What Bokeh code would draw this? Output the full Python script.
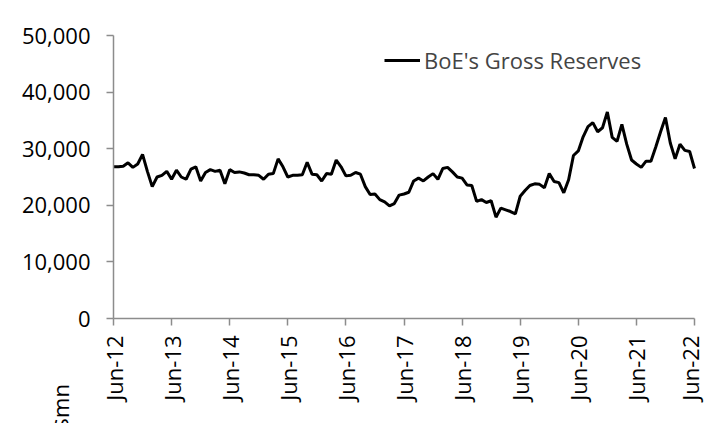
from bokeh.plotting import figure
from bokeh.models import (FixedTicker, NumeralTickFormatter, Range1d, Legend, LegendItem, Label,
                          ColumnDataSource)
from bokeh.embed import file_html
from bokeh.resources import INLINE
import math

# Monthly series, Jun-12 .. Jun-22 (US$ mn)
months = [f"{m}-{y:02d}" for y in range(12, 23) for m in
          ["Jan", "Feb", "Mar", "Apr", "May", "Jun", "Jul", "Aug", "Sep", "Oct", "Nov", "Dec"]][5:5 + 121]
reserves = [
    26800, 26800, 26900, 27500, 26700, 27300, 29000, 26000, 23300, 25000, 25300, 26000,
    24600, 26200, 25000, 24600, 26400, 26800, 24300, 25800, 26300, 26000, 26200, 23800,
    26300, 25800, 25900, 25700, 25400, 25400, 25300, 24600, 25500, 25600, 28200, 26800,
    25000, 25300, 25300, 25400, 27600, 25500, 25400, 24300, 25600, 25500, 28000, 26800,
    25200, 25300, 25800, 25500, 23300, 21900, 22000, 21000, 20600, 19900, 20300, 21800,
    22000, 22300, 24300, 24800, 24300, 25000, 25600, 24600, 26500, 26700, 25900, 25000,
    24800, 23600, 23500, 20700, 21000, 20500, 20800, 17900, 19500, 19200, 18900, 18500,
    21600, 22600, 23500, 23800, 23700, 23100, 25600, 24200, 24000, 22200, 24500, 28800,
    29600, 32100, 33900, 34600, 33000, 33700, 36500, 32000, 31300, 34300, 30800, 28000,
    27300, 26700, 27800, 27800, 30300, 33000, 35500, 31000, 28200, 30800, 29700, 29500,
    26500,
]
series_name = "BoE's Gross Reserves"
y_ticks = [0, 10000, 20000, 30000, 40000, 50000]
y_max = 50000
unit_label = "$mn"

FONT = "Open Sans"
AXIS_COLOR = "#8c8c8c"

# ---- layout (pixels on the canvas) ----
W, H = 704, 423
PX_LEFT, PX_RIGHT = 113, 694      # where first / last month sit
PX_TOP, PX_ZERO = 35, 318         # where y_max / 0 sit
n = len(reserves) - 1
ppx = (PX_RIGHT - PX_LEFT) / n
ppy = (PX_ZERO - PX_TOP) / y_max
x_range = Range1d(-PX_LEFT / ppx, n + (W - PX_RIGHT) / ppx)
y_range = Range1d(-(H - PX_ZERO) / ppy, PX_ZERO / ppy)

idx = list(range(len(reserves)))
src = ColumnDataSource(dict(x=idx, y=reserves, m=months))

p = figure(width=W, height=H, output_backend="svg", toolbar_location=None,
           x_range=x_range, y_range=y_range,
           min_border_left=0, min_border_right=0, min_border_top=0, min_border_bottom=0)
p.outline_line_color = None
p.grid.visible = False
p.background_fill_color = "white"
p.border_fill_color = "white"

r = p.line("x", "y", source=src, line_color="black", line_width=3)

# x axis: June of each year
june_idx = [i for i, m in enumerate(months) if m.startswith("Jun")]
p.xaxis.ticker = FixedTicker(ticks=june_idx)
p.xaxis.major_label_overrides = {i: months[i] for i in june_idx}
p.xaxis.major_label_orientation = math.pi / 2
p.xaxis.fixed_location = 0
p.xaxis.bounds = (0, n)
p.yaxis.ticker = FixedTicker(ticks=y_ticks)
p.yaxis.formatter = NumeralTickFormatter(format="0,0")
p.yaxis.fixed_location = 0
p.yaxis.bounds = (0, y_max)

for ax in (p.xaxis, p.yaxis):
    ax.axis_line_color = AXIS_COLOR
    ax.axis_line_width = 1.5
    ax.major_tick_line_color = AXIS_COLOR
    ax.major_tick_line_width = 1.5
    ax.major_tick_out = 7
    ax.major_tick_in = 0
    ax.minor_tick_line_color = None
    ax.major_label_text_font = FONT
    ax.major_label_text_font_size = "22px"
    ax.major_label_text_color = "black"
p.yaxis.major_label_standoff = 16
p.xaxis.major_label_standoff = 10

legend = Legend(items=[LegendItem(label=series_name, renderers=[r])],
                location=(384, H - 75), border_line_color=None, background_fill_alpha=0,
                label_text_font=FONT, label_text_font_size="22px", glyph_width=36,
                label_standoff=4, padding=0, margin=0)
p.add_layout(legend, "center")

p.add_layout(Label(x=59, y=-7, x_units="screen", y_units="screen", text=unit_label,
                   angle=math.pi / 2, text_font=FONT, text_font_size="22px",
                   text_color="black", text_baseline="alphabetic"))

open("out.html", "w").write(file_html(p, INLINE))
